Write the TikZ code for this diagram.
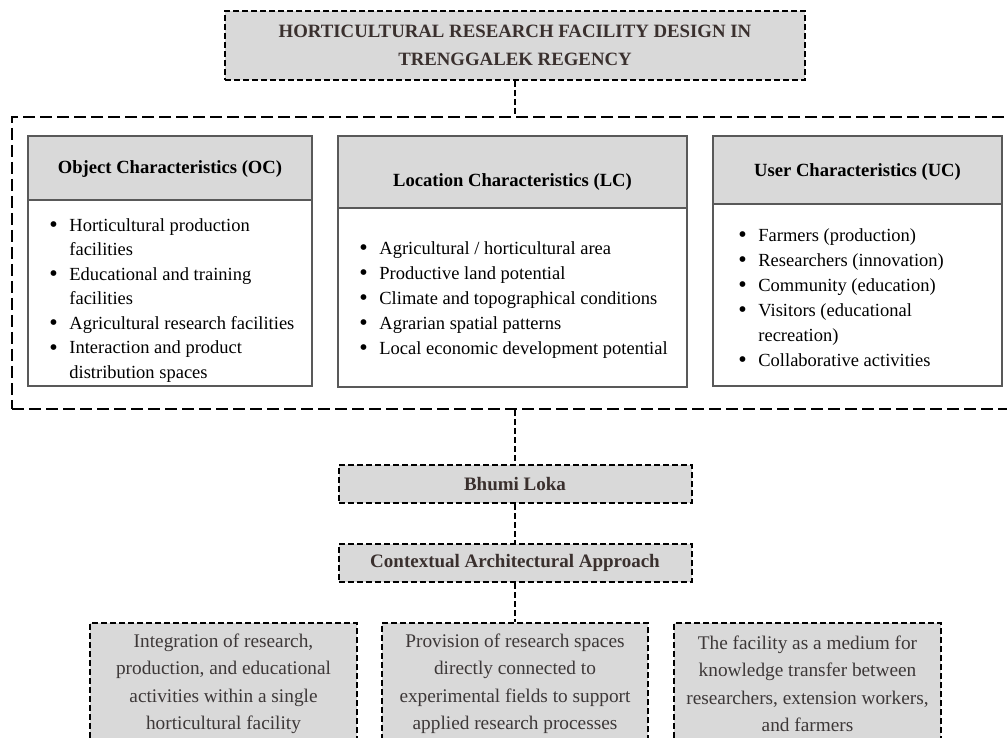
\documentclass[tikz,border=0pt]{standalone}
\usepackage{fontspec}
\setmainfont{Liberation Serif}
\definecolor{hdr}{HTML}{D9D9D9}
\definecolor{ibord}{HTML}{595959}
\definecolor{ttext}{HTML}{3A302E}
\definecolor{btext}{HTML}{3D3838}
\newcommand{\bul}{\makebox[20pt][l]{\raisebox{-1.8pt}{\scalebox{1.3}{\textbullet}}}}
\newcommand{\ind}{\hspace*{20pt}}
\begin{document}
\begin{tikzpicture}[x=1pt,y=-1pt,
  dbox/.style={draw=black, line width=2pt, dash pattern=on 6pt off 3pt, fill=hdr, inner sep=0pt},
  outerbox/.style={draw=black, line width=2.2pt, dash pattern=on 12pt off 5pt, inner sep=0pt},
  hbox/.style={draw=ibord, line width=1.4pt, fill=hdr, inner sep=0pt},
  bbox/.style={draw=ibord, line width=1.4pt, fill=white, inner sep=0pt},
  htext/.style={font=\fontsize{18.6}{22}\selectfont\bfseries, text=black, inner sep=0pt},
  ltext/.style={font=\fontsize{18.5}{24.5}\selectfont, text=black, inner sep=0pt, align=left, anchor=north west},
  btxt/.style={font=\fontsize{19.3}{27.5}\selectfont, text=btext, align=center},
  conn/.style={draw=black, line width=2.2pt, dash pattern=on 6pt off 3pt}]
\clip (0,0) rectangle (1007,738);
\fill[white] (0,0) rectangle (1007,738);

% title
\node[dbox, minimum width=580pt, minimum height=69pt, align=center, text=ttext,
  font=\fontsize{18.8}{28}\selectfont\bfseries] (title) at (515,45.5)
  {HORTICULTURAL RESEARCH FACILITY DESIGN IN\\TRENGGALEK REGENCY};

% outer container
\node[outerbox, minimum width=1013pt, minimum height=292pt] (outer) at (518.5,263) {};

% OC
\node[hbox, minimum width=284pt, minimum height=64pt] (ochead) at (170,168) {};
\node[bbox, minimum width=284pt, minimum height=186pt] (ocbody) at (170,293) {};
\node[htext] (octitle) at (170,169) {Object Characteristics (OC)};
\node[ltext] (oclist) at (49.2,218) {\bul Horticultural production\\ \ind facilities\\ \bul Educational and training\\ \ind facilities\\ \bul Agricultural research facilities\\ \bul Interaction and product\\ \ind distribution spaces};

% LC
\node[hbox, minimum width=349pt, minimum height=72pt] (lchead) at (512.5,172) {};
\node[bbox, minimum width=349pt, minimum height=179pt] (lcbody) at (512.5,297.5) {};
\node[htext] (lctitle) at (512.5,182) {Location Characteristics (LC)};
\node[ltext, font=\fontsize{18.5}{25}\selectfont] (lclist) at (359.2,241) {\bul Agricultural / horticultural area\\ \bul Productive land potential\\ \bul Climate and topographical conditions\\ \bul Agrarian spatial patterns\\ \bul Local economic development potential};

% UC
\node[hbox, minimum width=289pt, minimum height=68pt] (uchead) at (857.5,170) {};
\node[bbox, minimum width=289pt, minimum height=182pt] (ucbody) at (857.5,295) {};
\node[htext] (uctitle) at (857.5,172) {User Characteristics (UC)};
\node[ltext, font=\fontsize{18.5}{25}\selectfont] (uclist) at (738.2,228) {\bul Farmers (production)\\ \bul Researchers (innovation)\\ \bul Community (education)\\ \bul Visitors (educational\\ \ind recreation)\\ \bul Collaborative activities};

% middle chain
\node[dbox, minimum width=353pt, minimum height=38pt, text=ttext,
  font=\fontsize{19}{22}\selectfont\bfseries] (bhumi) at (515,484) {Bhumi Loka};
\node[dbox, minimum width=353pt, minimum height=38pt, text=ttext,
  font=\fontsize{19}{22}\selectfont\bfseries] (ctx) at (515,563) {Contextual Architectural Approach};

% bottom boxes
\node[dbox, btxt, minimum width=267pt, minimum height=122pt] (left) at (223.5,684)
  {Integration of research,\\production, and educational\\activities within a single\\horticultural facility};
\node[dbox, btxt, minimum width=266pt, minimum height=122pt] (mid) at (515,684)
  {Provision of research spaces\\directly connected to\\experimental fields to support\\applied research processes};
\node[dbox, btxt, minimum width=267pt, minimum height=122pt] (right) at (807.5,684)
  {The facility as a medium for\\knowledge transfer between\\researchers, extension workers,\\and farmers};

% connectors
\draw[conn] (title.south) -- (title.south |- outer.north);
\draw[conn] (bhumi.north |- outer.south) -- (bhumi.north);
\draw[conn] (bhumi.south) -- (ctx.north);
\draw[conn] (ctx.south) -- (mid.north);
\end{tikzpicture}
\end{document}
